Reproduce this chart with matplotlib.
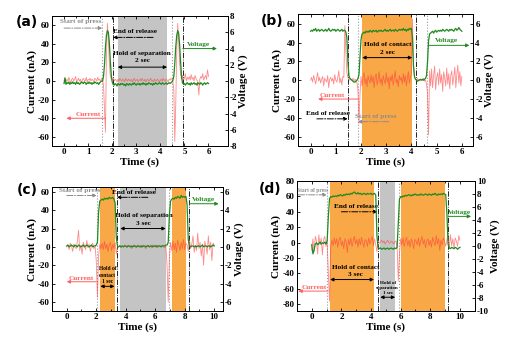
import numpy as np
import matplotlib
matplotlib.use('Agg')
import matplotlib.pyplot as plt

plt.rcParams['font.family'] = 'Liberation Serif'
plt.rcParams['font.weight'] = 'bold'
plt.rcParams['axes.labelweight'] = 'bold'
plt.rcParams['axes.unicode_minus'] = False

# ---------------- data ----------------
# (a) and (b): samples every 0.04 s from 0 to 6 s
t_ab = np.round(np.arange(151) * 0.04, 2)

cur_a = [1, 3, -1, 2, 0, 4, 1, -2, 2, 3,
         0, 2, 5, -1, 1, 3, 0, 2, -2, 1,
         3, 1, 0, 4, -1, 2, 1, 3, 0, 2,
         1, -1, 3, 2, 0, 4, 1, 2, -1, 3,
         2, -5, -30, -55, 25, 62, 48, 20, 6, 2,
         1, 3, 0, 2, 1, -1, 2, 0, 3, 1,
         0, 2, 1, -1, 3, 1, 0, 2, 1, 0,
         2, -1, 1, 3, 0, 1, 2, -1, 1, 2,
         0, 3, 1, 0, 2, -1, 1, 2, 0, 1,
         3, 0, 1, -1, 2, 1, 0, 2, 1, -1,
         1, 2, 0, 3, 1, 0, 2, 1, -1, 2,
         1, 3, 2, 0, -10, -65, -25, 30, 62, 45,
         20, 8, 2, 6, 1, 3, 8, 0, 4, 2,
         5, 1, 7, 2, 4, 0, 6, 3, 1, -3,
         -15, 2, 5, 3, 8, 1, 4, 6, 2, 12, 5]
volt_a = [-0.3, 0.4, -0.4, -0.2, -0.3, -0.1, -0.4, -0.2, -0.3, -0.1,
          -0.3, -0.2, -0.4, -0.1, -0.3, -0.2, -0.4, -0.3, -0.1, -0.2,
          -0.3, -0.1, -0.2, -0.4, -0.2, -0.3, -0.1, -0.3, -0.2, -0.4,
          -0.2, -0.3, -0.1, -0.2, -0.3, -0.2, -0.4, -0.2, -0.1, 0.0,
          0.0, 0.6, 2.0, 4.2, 5.6, 6.2, 6.0, 4.8, 2.6, 0.8,
          -0.1, -0.4, -0.5, -0.3, -0.4, -0.6, -0.3, -0.4, -0.5, -0.3,
          -0.4, -0.3, -0.5, -0.4, -0.6, -0.3, -0.4, -0.5, -0.3, -0.4,
          -0.5, -0.3, -0.4, -0.2, -0.4, -0.5, -0.3, -0.4, -0.3, -0.5,
          -0.3, -0.4, -0.2, -0.4, -0.3, -0.5, -0.3, -0.4, -0.2, -0.3,
          -0.4, -0.3, -0.5, -0.3, -0.4, -0.2, -0.3, -0.4, -0.3, -0.2,
          -0.3, -0.4, -0.2, -0.3, -0.4, -0.3, -0.2, -0.4, -0.3, -0.2,
          -0.3, -0.2, -0.1, 0.1, 0.6, 2.2, 4.2, 5.6, 6.2, 5.9,
          4.5, 2.4, 0.6, -0.2, -0.4, -0.3, -0.5, -0.3, -0.2, -0.4,
          -0.3, -0.5, -0.2, -0.4, -0.3, -0.2, -0.4, -0.3, -0.5, -0.2,
          -0.3, -0.4, -0.2, -0.3, -0.5, -0.3, -0.2, -0.4, -0.3, -0.2, -0.3]

cur_b = [0, 3, -2, 5, 1, -4, 2, 8, -1, 3,
         -3, 1, 4, -6, 2, 0, -2, 5, -8, 1,
         3, -1, 2, -4, 6, 0, -2, 3, 10, -3,
         2, -5, 4, 3, 58, 30, 8, 3, 1, 0,
         1, 0, 2, -1, 1, 0, -3, -10, -46, -15,
         4, -6, 3, 8, -4, 2, -7, 5, 0, -3,
         6, -2, 4, -8, 3, 7, -5, 1, 9, -3,
         2, -6, 5, 0, -4, 8, -2, 3, -9, 4,
         -1, 6, -5, 2, 10, -3, 1, -7, 5, 0,
         3, -4, 7, -2, 5, -6, 2, 9, -3, 4,
         6, 65, 20, 3, 1, 0, 2, -1, 1, 0,
         1, 0, 2, -1, 0, -4, -15, -58, 10, -6,
         12, -8, 5, 15, -10, 3, 8, -5, 12, -3,
         6, -12, 9, 2, -6, 13, -4, 7, -9, 5,
         10, -5, 3, 14, -8, 6, 16, -3, 9, -6, 4]
volt_b = [5.2, 5.3, 5.2, 5.4, 5.3, 5.5, 5.2, 5.3, 5.4, 5.2,
          5.3, 5.4, 5.3, 5.2, 5.3, 5.4, 5.2, 5.3, 5.5, 5.3,
          5.2, 5.3, 5.4, 5.3, 5.4, 5.2, 5.3, 5.4, 5.3, 5.2,
          5.3, 5.4, 5.2, 5.3, 5.3, 5.1, 4.5, 2.0, 0.5, 0.2,
          0.1, 0.0, -0.1, -0.2, -0.2, -0.1, 0.0, 0.2, 0.6, 2.5,
          4.3, 4.9, 5.0, 5.1, 5.0, 5.2, 5.1, 5.2, 5.1, 5.3,
          5.2, 5.1, 5.3, 5.2, 5.2, 5.3, 5.1, 5.2, 5.3, 5.2,
          5.3, 5.2, 5.2, 5.3, 5.4, 5.2, 5.3, 5.2, 5.3, 5.4,
          5.2, 5.3, 5.3, 5.2, 5.4, 5.3, 5.2, 5.3, 5.4, 5.3,
          5.4, 5.3, 5.5, 5.3, 5.4, 5.2, 5.4, 5.3, 5.5, 5.4,
          5.5, 4.5, 1.5, 0.4, 0.1, 0.0, -0.1, 0.0, 0.0, 0.1,
          0.0, 0.1, 0.0, 0.1, 0.2, 0.5, 2.0, 4.2, 4.9, 5.0,
          5.1, 5.2, 5.0, 5.2, 5.3, 5.1, 5.2, 5.3, 5.2, 5.3,
          5.2, 5.4, 5.3, 5.2, 5.3, 5.4, 5.3, 5.2, 5.4, 5.3,
          5.4, 5.3, 5.2, 5.4, 5.5, 5.3, 5.4, 5.6, 5.4, 5.3, 5.2]

# (c) and (d): samples every 0.08 s from 0 to 10 s
t_cd = np.round(np.arange(126) * 0.08, 2)

cur_c = [0, 2, -3, 4, 1, -5, 3, 0, -2, 6,
         18, -4, 2, -8, 5, 1, -3, 7, -1, 3,
         -5, 2, 4, -2, 1, -15, -55, -10, 3, -2,
         4, -3, 6, -2, 3, -5, 2, 5, -4, 3,
         -2, 5, -8, 1, 0, 2, -1, 1, 0, 2,
         1, -1, 2, 0, 1, -2, 1, 2, 0, -1,
         2, 0, 1, -1, 2, 1, 0, -2, 1, 2,
         0, 1, -1, 2, 1, 0, 2, -1, 1, 0,
         1, 2, 0, -1, 1, -20, -60, -12, 5, -4,
         6, -3, 4, -6, 7, 2, -4, 5, -2, 8,
         -3, 4, 2, -5, 8, -2, 3, 12, -6, 2,
         -4, 15, -2, 5, -10, 3, -20, 6, 1, -8,
         12, -3, 5, -15, 4, 2]
volt_c = [0.1, 0.2, 0.0, 0.1, 0.2, 0.1, 0.0, 0.2, 0.1, 0.0,
          0.2, 0.1, 0.0, 0.1, 0.2, 0.0, 0.1, 0.2, 0.1, 0.0,
          0.1, 0.2, 0.0, 0.1, 0.1, 0.2, 0.5, 3.8, 5.0, 5.1,
          5.2, 5.1, 5.3, 5.2, 5.3, 5.2, 5.4, 5.3, 5.3, 5.4,
          5.2, 4.8, 1.0, 0.1, 0.0, 0.1, 0.0, 0.1, 0.0, 0.1,
          0.1, 0.0, 0.1, 0.1, 0.0, 0.1, 0.0, 0.1, 0.1, 0.0,
          0.1, 0.1, 0.0, 0.1, 0.0, 0.1, 0.1, 0.0, 0.1, 0.1,
          0.0, 0.1, 0.1, 0.0, 0.1, 0.1, 0.0, 0.1, 0.1, 0.1,
          0.0, 0.1, 0.1, 0.1, 0.2, 0.2, 0.5, 3.5, 5.0, 5.2,
          5.3, 5.2, 5.4, 5.3, 5.5, 5.4, 5.3, 5.6, 5.4, 5.5,
          5.4, 5.5, 4.6, 0.8, 0.1, 0.0, 0.1, 0.1, 0.0, 0.1,
          0.0, 0.1, 0.1, 0.0, 0.1, 0.2, 0.0, 0.1, 0.1, 0.0,
          0.1, 0.1, 0.0, 0.1, 0.2, 0.1]

cur_d = [-10, 5, -12, 8, 2, -15, 10, -3, 6, -16,
         4, 8, -5, 2, -40, -76, -5, 3, -4, 6,
         -2, 5, -6, 3, 7, -4, 2, -8, 5, 1,
         -13, 4, -3, 6, -5, 2, 8, -2, 4, -6,
         5, -3, 7, -1, -6, 4, 2, -5, 6, -2,
         3, 8, -4, 5, -3, -12, 2, -1, 1, 3,
         0, 2, -2, 1, 3, 0, -1, 2, 1, -2,
         1, 2, -5, -50, -15, 5, -3, 6, -5, 2,
         7, -4, 3, -6, 5, 0, -8, 4, 2, -3,
         6, -5, 3, 8, -2, 4, -7, 2, 5, -4,
         3, -6, 7, 1, -4, 9, -2, 5, -10, 3,
         -3, 6, 2, -5, 4, 8, -6, 10, -4, 5,
         -8, 6, 2, -5, 9, 3]
volt_d = [0.2, -1.2, -0.6, 0.3, 0.5, 0.2, 0.4, 0.6, 0.3, 0.5,
          0.4, 0.6, 0.3, 0.8, 4.5, 7.3, 7.6, 7.5, 7.7, 7.6,
          7.7, 7.6, 7.8, 7.7, 7.9, 7.8, 7.7, 7.9, 7.8, 8.0,
          7.9, 8.0, 7.9, 8.1, 8.0, 8.2, 8.3, 8.1, 8.0, 8.2,
          8.0, 8.1, 7.9, 8.0, 8.1, 8.0, 7.9, 8.1, 8.0, 8.0,
          8.1, 7.9, 8.0, 8.1, 7.8, 1.5, -0.2, -0.4, -0.3, -0.5,
          -0.4, -0.3, -0.5, -0.4, -0.3, -0.5, -0.4, -0.3, -0.4, -0.5,
          -0.3, -0.4, -0.2, 3.5, 7.2, 7.6, 7.5, 7.7, 7.6, 7.8,
          7.7, 7.8, 7.9, 7.8, 7.7, 7.9, 7.8, 8.0, 7.9, 7.8,
          7.9, 7.8, 8.0, 7.9, 7.8, 7.9, 8.0, 7.9, 7.8, 8.0,
          7.9, 7.8, 8.0, 7.9, 8.1, 7.9, 7.8, 8.0, 7.9, 8.0,
          7.9, 8.1, 8.0, 7.9, 5.0, 0.3, -0.3, -0.4, -0.2, -0.3,
          -0.4, -0.2, -0.3, -0.5, -0.3, -0.2]

# ---------------- styling ----------------
C_CUR = '#ff3b3b'
C_VOLT = '#1f8a1f'
C_GRAY = '#c4c4c4'
C_ORANGE = '#f8a846'
C_TXTGRAY = '#8c8c8c'
FS = 5.2

fig = plt.figure(figsize=(5.2, 3.48), dpi=100)


def setup(ax, xlim, xticks, ylim, yticks, vlim, vticks):
    ax.set_xlim(xlim)
    ax.set_ylim(ylim)
    ax.set_xticks(xticks)
    ax.set_yticks(yticks)
    ax.set_xticks([(a + b) / 2 for a, b in zip(xticks[:-1], xticks[1:])], minor=True)
    ax.tick_params(which='both', direction='in', top=True, labelsize=6.5, width=0.6, pad=1.5)
    ax.tick_params(which='major', length=2.5)
    ax.tick_params(which='minor', length=1.5)
    ax.set_xlabel('Time (s)', fontsize=8, labelpad=1)
    ax.set_ylabel('Current (nA)', fontsize=8, labelpad=1)
    ax2 = ax.twinx()
    ax2.set_ylim(vlim)
    ax2.set_yticks(vticks)
    ax2.tick_params(direction='in', labelsize=6.5, width=0.6, length=2.5, pad=1.5)
    ax2.set_ylabel('Voltage (V)', fontsize=8, labelpad=1)
    for a in (ax, ax2):
        for s in a.spines.values():
            s.set_linewidth(0.7)
    return ax2


def harrow(ax, x0, x1, y, color, ls='-', style='-|>'):
    ax.annotate('', xy=(x1, y), xytext=(x0, y),
                arrowprops=dict(arrowstyle=style, color=color, lw=0.7, ls=ls,
                                mutation_scale=5, shrinkA=0, shrinkB=0))


def vlines(ax, dotted, dashdot):
    for x in dotted:
        ax.axvline(x, color='#9a9a9a', ls=':', lw=0.8, zorder=1)
    for x in dashdot:
        ax.axvline(x, color='k', ls='-.', lw=0.6, zorder=1)


def traces(ax, ax2, t, cur, volt):
    ax.plot(t, cur, color=C_CUR, lw=0.6, alpha=0.6, zorder=2)
    ax2.plot(t, volt, color=C_VOLT, lw=0.9, zorder=3)


# ---------------- (a) ----------------
ax = fig.add_axes([0.100, 0.580, 0.338, 0.374])
ax2 = setup(ax, (-0.5, 6.8), [0, 1, 2, 3, 4, 5, 6], (-70, 70), range(-60, 61, 20),
            (-8, 8), range(-8, 9, 2))
ax.axvspan(2.23, 4.28, color=C_GRAY, lw=0, zorder=0)
vlines(ax, [1.58, 4.48], [2.04, 4.93])
traces(ax, ax2, t_ab, cur_a, volt_a)
ax.text(0.68, 61, 'Start of press', color=C_TXTGRAY, fontsize=FS, ha='center', va='bottom')
harrow(ax, 0.0, 1.58, 57, C_TXTGRAY, ls='-.')
ax.text(2.95, 51, 'End of release', color='k', fontsize=FS, ha='center', va='bottom')
harrow(ax, 3.7, 2.04, 47, 'k', ls='-.')
ax.text(3.25, 19, 'Hold of separation\n2 sec', fontsize=FS, ha='center', va='bottom',
        linespacing=1.6)
harrow(ax, 2.23, 4.28, 15, 'k', style='<|-|>')
harrow(ax, 4.93, 6.35, 35, C_VOLT)
ax.text(5.6, 37, 'Voltage', color=C_VOLT, fontsize=FS, ha='center', va='bottom')
harrow(ax, 1.72, 0.1, -40, '#ff6060')
ax.text(1.0, -39, 'Current', color='#ff6060', fontsize=FS, ha='center', va='bottom')

# ---------------- (b) ----------------
ax = fig.add_axes([0.573, 0.580, 0.337, 0.379])
ax2 = setup(ax, (-0.5, 6.45), [0, 1, 2, 3, 4, 5, 6], (-70, 70), range(-60, 61, 20),
            (-7, 7), range(-6, 7, 2))
ax.axvspan(2.05, 4.03, color=C_ORANGE, lw=0, zorder=0)
vlines(ax, [1.88, 4.6], [1.47, 4.18])
traces(ax, ax2, t_ab, cur_b, volt_b)
ax.text(3.05, 27, 'Hold of contact\n2 sec', fontsize=FS, ha='center', va='bottom',
        linespacing=1.6)
harrow(ax, 2.05, 4.03, 24, 'k', style='<|-|>')
harrow(ax, 4.7, 6.3, 37, C_VOLT)
ax.text(5.4, 39, 'Voltage', color=C_VOLT, fontsize=FS, ha='center', va='bottom')
harrow(ax, 1.88, 0.3, -20, '#ff6060')
ax.text(0.85, -19, 'Current', color='#ff6060', fontsize=FS, ha='center', va='bottom')
ax.text(0.7, -38, 'End of release', color='k', fontsize=FS, ha='center', va='bottom')
harrow(ax, 0.25, 1.47, -41, 'k', ls='-.')
ax.text(2.6, -41, 'Start of press', color=C_TXTGRAY, fontsize=FS, ha='center', va='bottom')
harrow(ax, 3.1, 1.88, -44, C_TXTGRAY, ls='-.')

# ---------------- (c) ----------------
ax = fig.add_axes([0.100, 0.106, 0.329, 0.356])
ax2 = setup(ax, (-1, 10.6), [0, 2, 4, 6, 8, 10], (-70, 65), range(-60, 61, 20),
            (-7, 6.5), range(-6, 7, 2))
ax.axvspan(2.28, 3.24, color=C_ORANGE, lw=0, zorder=0)
ax.axvspan(3.63, 6.71, color=C_GRAY, lw=0, zorder=0)
ax.axvspan(7.15, 8.08, color=C_ORANGE, lw=0, zorder=0)
vlines(ax, [2.03, 6.96], [3.4, 8.31])
traces(ax, ax2, t_cd, cur_c, volt_c)
ax.text(0.85, 59, 'Start of press', color=C_TXTGRAY, fontsize=FS, ha='center', va='bottom')
harrow(ax, 0.0, 2.03, 56, C_TXTGRAY, ls='-.')
ax.text(4.55, 57, 'End of release', color='k', fontsize=FS, ha='center', va='bottom')
harrow(ax, 5.5, 3.4, 54, 'k', ls='-.')
ax.text(5.2, 23, 'Hold of separation\n3 sec', fontsize=FS, ha='center', va='bottom',
        linespacing=1.6)
harrow(ax, 3.63, 6.71, 20, 'k', style='<|-|>')
ax.text(2.76, -41, 'Hold of\ncontact\n1 sec', fontsize=4, ha='center', va='bottom',
        linespacing=1.4)
harrow(ax, 2.28, 3.24, -43, 'k', style='<|-|>')
harrow(ax, 8.31, 10.3, 47, C_VOLT)
ax.text(9.3, 49, 'Voltage', color=C_VOLT, fontsize=FS, ha='center', va='bottom')
harrow(ax, 2.0, 0.0, -38, '#ff6060')
ax.text(1.0, -37, 'Current', color='#ff6060', fontsize=FS, ha='center', va='bottom')

# ---------------- (d) ----------------
ax = fig.add_axes([0.571, 0.106, 0.342, 0.374])
ax2 = setup(ax, (-1, 11), [0, 2, 4, 6, 8, 10], (-89, 80), range(-80, 81, 20),
            (-10, 10), range(-10, 11, 2))
ax.axvspan(1.24, 4.2, color=C_ORANGE, lw=0, zorder=0)
ax.axvspan(4.62, 5.63, color=C_GRAY, lw=0, zorder=0)
ax.axvspan(6.01, 8.99, color=C_ORANGE, lw=0, zorder=0)
vlines(ax, [1.01, 5.86], [4.44, 9.17])
traces(ax, ax2, t_cd, cur_d, volt_d)
ax.text(0.05, 65, 'Start of press', color=C_TXTGRAY, fontsize=4, ha='center', va='bottom')
harrow(ax, -0.9, 1.01, 62, C_TXTGRAY, ls='-.')
ax.text(2.97, 43, 'End of release', color='k', fontsize=FS, ha='center', va='bottom')
harrow(ax, 2.0, 4.44, 40, 'k', ls='-.')
ax.text(2.95, -45, 'Hold of contact\n3 sec', fontsize=FS, ha='center', va='bottom',
        linespacing=1.6)
harrow(ax, 1.24, 4.2, -48, 'k', style='<|-|>')
ax.text(5.12, -68, 'Hold of\nseparation\n1 sec', fontsize=3.6, ha='center', va='bottom',
        linespacing=1.4)
harrow(ax, 4.62, 5.63, -71, 'k', style='<|-|>')
harrow(ax, 9.2, 10.75, 34, C_VOLT)
ax.text(9.95, 36, 'Voltage', color=C_VOLT, fontsize=FS, ha='center', va='bottom')
harrow(ax, 1.1, -0.9, -63, '#ff6060')
ax.text(0.15, -62, 'Current', color='#ff6060', fontsize=FS, ha='center', va='bottom')

# panel letters
for x, y, s in [(27, 22, '(a)'), (272, 21, '(b)'), (27, 190, '(c)'), (270, 189, '(d)')]:
    fig.text(x / 520, 1 - y / 348, s, family='DejaVu Sans', weight='bold', fontsize=10,
             ha='center', va='center')

fig.savefig('out.png', dpi=100)
